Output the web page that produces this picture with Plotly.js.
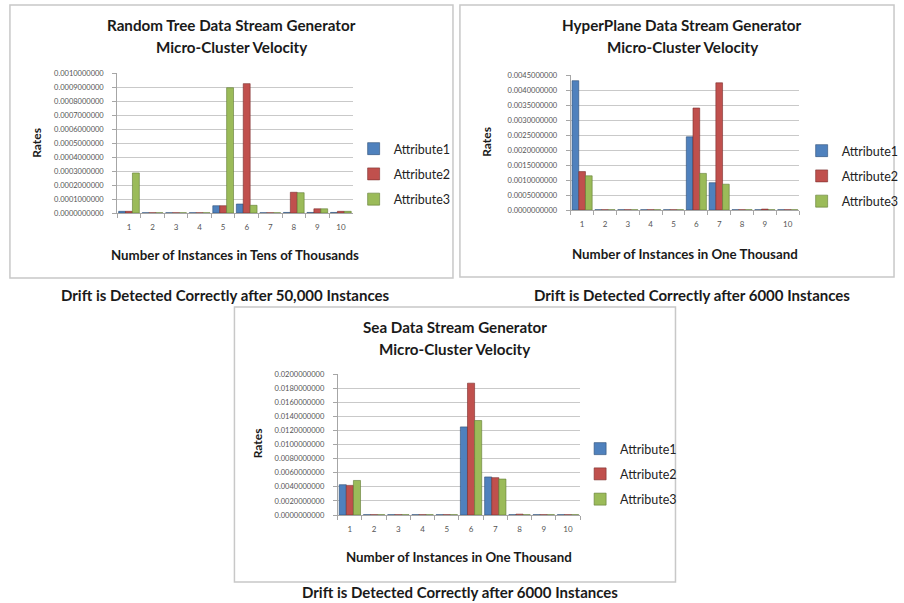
<!DOCTYPE html>
<html><head><meta charset="utf-8">
<script src="https://cdn.plot.ly/plotly-3.0.1.min.js"></script>
<style>html,body{margin:0;padding:0;background:#fff}#chart{width:904px;height:603px}</style>
</head><body><div id="chart"></div>
<script>
// ---------- data ----------
const categories = ['1','2','3','4','5','6','7','8','9','10'];
const seriesNames = ['Attribute1','Attribute2','Attribute3'];

const randomTreeA1 = [0.000012,0.000002,0.000002,0.000002,0.000052,0.000064,0.000002,0.000004,0.000004,0.000004];
const randomTreeA2 = [0.000012,0.000002,0.000002,0.000002,0.000052,0.000924,0.000002,0.000148,0.000030,0.000012];
const randomTreeA3 = [0.000286,0.000002,0.000002,0.000002,0.000895,0.000055,0.000002,0.000145,0.000030,0.000012];

const hyperPlaneA1 = [0.00431,0.00001,0.00001,0.00001,0.00001,0.00244,0.00091,0.00001,0.00001,0.00001];
const hyperPlaneA2 = [0.00128,0.00001,0.00001,0.00001,0.00001,0.00340,0.00424,0.00001,0.00003,0.00001];
const hyperPlaneA3 = [0.00114,0.00001,0.00001,0.00001,0.00001,0.00122,0.00086,0.00001,0.00001,0.00001];

const seaA1 = [0.0043,0.00005,0.00005,0.00005,0.00005,0.0125,0.0054,0.00005,0.00005,0.00005];
const seaA2 = [0.0042,0.00005,0.00005,0.00005,0.00005,0.0187,0.0053,0.00012,0.00005,0.00005];
const seaA3 = [0.0049,0.00005,0.00005,0.00005,0.00005,0.0134,0.0051,0.00005,0.00005,0.00005];

const panelTitles1 = ['Random Tree Data Stream Generator', 'HyperPlane Data Stream Generator', 'Sea Data Stream Generator'];
const panelTitle2 = 'Micro-Cluster Velocity';
const xTitles = ['Number of Instances in Tens of Thousands',
                 'Number of Instances in One Thousand',
                 'Number of Instances in One Thousand'];
const yTitle = 'Rates';
const captions = ['Drift is Detected Correctly after 50,000 Instances',
                  'Drift is Detected Correctly after 6000 Instances',
                  'Drift is Detected Correctly after 6000 Instances'];
const yMax = [0.001, 0.0045, 0.02];
const yStep = [0.0001, 0.0005, 0.002];

// ---------- styling / geometry (pixels) ----------
const W = 904, H = 603;
const colors = ['#4F81BD','#C0504D','#9BBB59'];
const edge = ['#2c4d75','#7a2e2c','#5f7a32'];
const FONT = 'Lato, "Open Sans", sans-serif';
const geo = [
  {px0:118, px1:355, py0:213, py1:73, box:[10,5,456,278], title:[233,25,47], xt:[237,255], yt:[36,143], cap:[227,295], leg:[356,134]},
  {px0:574.5, px1:804.5, py0:210, py1:75, box:[463,5,900,277], title:[687,25,47], xt:[690,254], yt:[489,142], cap:[697,295], leg:[807,136]},
  {px0:340, px1:584, py0:515, py1:374, box:[236,307,680,582], title:[458,327,349], xt:[462,557], yt:[259,443], cap:[463,592], leg:[584,434]}
];
const data = [[randomTreeA1,randomTreeA2,randomTreeA3],[hyperPlaneA1,hyperPlaneA2,hyperPlaneA3],[seaA1,seaA2,seaA3]];

const fx = p => p / W, fy = p => 1 - p / H;
const traces = [];
const layout = {
  width: W, height: H, margin:{l:0,r:0,t:0,b:0},
  paper_bgcolor:'#fff', plot_bgcolor:'rgba(0,0,0,0)',
  barmode:'group', bargap:0.12, bargroupgap:0,
  font:{family:FONT, color:'#222'},
  showlegend:true, shapes:[], annotations:[]
};
const ann = (text, x, y, size, extra) => Object.assign({text:'<b>'+text+'</b>', x:fx(x), y:fy(y),
  xref:'paper', yref:'paper', showarrow:false, xanchor:'center', yanchor:'middle',
  font:{size:size, color:'#1a1a1a'}}, extra || {});

data.forEach((set, p) => {
  const g = geo[p];
  const sfx = p === 0 ? '' : String(p+1);
  const legName = p === 0 ? 'legend' : 'legend' + (p+1);
  set.forEach((vals, s) => {
    traces.push({
      type:'bar', x:categories, y:vals, name:seriesNames[s],
      xaxis:'x'+sfx, yaxis:'y'+sfx, legend:legName, legendgroup:'g'+p+s,
      marker:{color:colors[s], line:{color:edge[s], width:0.6}},
      hoverinfo:'x+y+name'
    });
  });
  layout['xaxis'+sfx] = {
    domain:[fx(g.px0), fx(g.px1)], anchor:'y'+sfx, type:'category',
    showgrid:false, showline:true, linecolor:'#a6a6a6', linewidth:1,
    ticks:'outside', ticklen:4, tickcolor:'#a6a6a6', tickson:'boundaries',
    tickfont:{size:8, color:'#555'}, ticklabelstandoff:6, fixedrange:true
  };
  layout['yaxis'+sfx] = {
    domain:[fy(g.py0), fy(g.py1)], anchor:'x'+sfx, range:[0, yMax[p]],
    dtick:yStep[p], tick0:0, tickformat:'.10f',
    showgrid:true, gridcolor:'#c9c9c9', gridwidth:1, zeroline:false,
    showline:true, linecolor:'#a6a6a6', linewidth:1,
    ticks:'outside', ticklen:4, tickcolor:'#a6a6a6',
    tickfont:{size:7.5, color:'#555'}, ticklabelstandoff:7, fixedrange:true
  };
  layout[legName] = {
    x:fx(g.leg[0]), y:fy(g.leg[1]), xanchor:'left', yanchor:'top',
    bgcolor:'rgba(0,0,0,0)', font:{size:12.5, family:FONT, color:'#222'},
    tracegroupgap:6, itemclick:false, itemdoubleclick:false
  };
  layout.shapes.push({type:'rect', xref:'paper', yref:'paper',
    x0:fx(g.box[0]), x1:fx(g.box[2]), y0:fy(g.box[3]), y1:fy(g.box[1]),
    line:{color:'#c8c8c8', width:1.5}, fillcolor:'rgba(0,0,0,0)', layer:'below'});
  layout.annotations.push(
    ann(panelTitles1[p], g.title[0], g.title[1], 15.2),
    ann(panelTitle2, g.title[0], g.title[2], 15.2),
    ann(xTitles[p], g.xt[0], g.xt[1], 13.3),
    ann(yTitle, g.yt[0], g.yt[1], 12, {textangle:-90}),
    ann(captions[p], g.cap[0], g.cap[1], 15)
  );
});

Plotly.newPlot('chart', traces, layout, {displayModeBar:false});
</script>
</body></html>
